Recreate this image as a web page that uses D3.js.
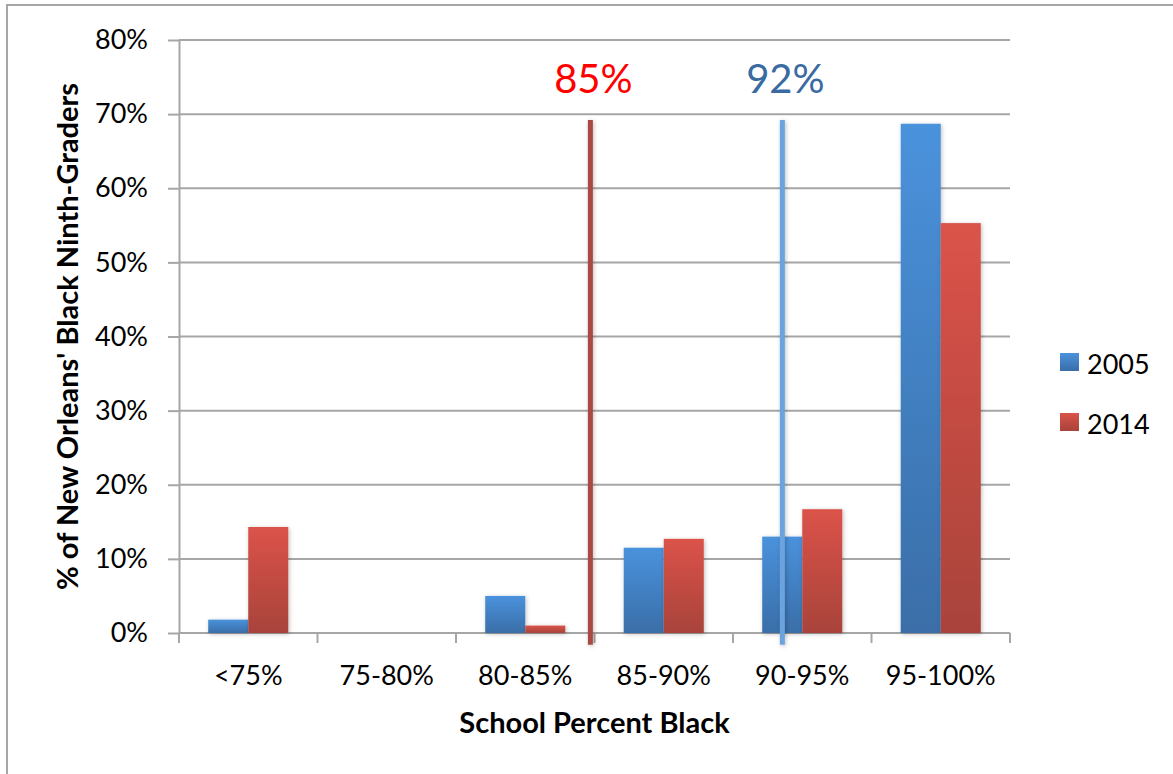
<!DOCTYPE html>
<html>
<head>
<meta charset="utf-8">
<script src="https://cdn.jsdelivr.net/npm/d3@7"></script>
<style>
  body { margin: 0; background: #fff; }
  text { font-family: Lato, "Open Sans", sans-serif; }
</style>
</head>
<body>
<svg id="canvas"></svg>
<script>
//--chart data
let categories = ['<75%', '75-80%', '80-85%', '85-90%', '90-95%', '95-100%'];
let seriesNames = ['2005', '2014'];
let values2005 = [1.8, 0, 5.0, 11.5, 13.0, 68.7];
let values2014 = [14.3, 0, 1.0, 12.7, 16.7, 55.3];
let yTicks = [0, 10, 20, 30, 40, 50, 60, 70, 80];
let markerLabels = ['85%', '92%'];
let markerValues = [85, 92];
let markerSpan = [-1.6, 69.2];
//--

let width = 1173;
let height = 774;

let canvas = d3.select('#canvas')
    .attr('width', width)
    .attr('height', height);

let plotLeft = 179, plotRight = 1010, plotTop = 40, plotBottom = 633;

let defs = canvas.append('defs');

let gradients = [
    {id: 'grad2005', top: '#4a92dc', bottom: '#3a6ea8'},
    {id: 'grad2014', top: '#db5349', bottom: '#a8433b'}
];
gradients.forEach(g => {
    let lg = defs.append('linearGradient')
        .attr('id', g.id)
        .attr('x1', 0).attr('y1', 0).attr('x2', 0).attr('y2', 1);
    lg.append('stop').attr('offset', '0%').attr('stop-color', g.top);
    lg.append('stop').attr('offset', '100%').attr('stop-color', g.bottom);
});

// shadow in user space so thin vertical lines don't vanish
defs.append('filter')
    .attr('id', 'shadow')
    .attr('filterUnits', 'userSpaceOnUse')
    .attr('x', 0).attr('y', 0).attr('width', width).attr('height', height)
    .append('feDropShadow')
    .attr('dx', 1).attr('dy', 1)
    .attr('stdDeviation', 2)
    .attr('flood-color', '#000')
    .attr('flood-opacity', 0.25);

//--outer frame
canvas.append('rect')
    .attr('x', 7).attr('y', 5)
    .attr('width', width + 20).attr('height', height + 20)
    .attr('fill', 'none')
    .attr('stroke', '#a6a6a6')
    .attr('stroke-width', 2);

//--scales
let x = d3.scaleBand()
    .domain(categories)
    .range([plotLeft, plotRight])
    .paddingInner(0).paddingOuter(0);

let xSeries = d3.scaleBand()
    .domain(seriesNames)
    .range([0, x.bandwidth()])
    .paddingInner(0)
    .paddingOuter(0.73);

let y = d3.scaleLinear()
    .domain([0, 80])
    .range([plotBottom, plotTop]);

let xMarker = d3.scaleLinear()
    .domain([70, 100.3])
    .range([plotLeft, plotRight]);

//--gridlines
canvas.append('g')
    .selectAll('line')
    .data(yTicks)
    .enter()
    .append('line')
    .attr('x1', plotLeft).attr('x2', plotRight)
    .attr('y1', d => y(d)).attr('y2', d => y(d))
    .attr('stroke', '#a6a6a6')
    .attr('stroke-width', 2);

//--y axis
let yAxis = canvas.append('g')
    .attr('transform', 'translate(' + plotLeft + ',0)')
    .call(d3.axisLeft(y)
        .tickValues(yTicks)
        .tickSize(11)
        .tickSizeOuter(0)
        .tickPadding(20)
        .tickFormat(d => d + '%'));
yAxis.select('.domain').attr('stroke', '#a6a6a6').attr('stroke-width', 2);
yAxis.selectAll('.tick line').attr('stroke', '#a6a6a6').attr('stroke-width', 2);
yAxis.selectAll('.tick text')
    .attr('font-size', 27)
    .attr('fill', '#000')
    .attr('font-family', 'Lato');

//--x axis ticks at category boundaries
let boundaries = categories.map(c => x(c)).concat([x.range()[1]]);
let xAxis = canvas.append('g')
    .attr('transform', 'translate(0,' + plotBottom + ')');
xAxis.selectAll('line')
    .data(boundaries)
    .enter()
    .append('line')
    .attr('x1', d => d).attr('x2', d => d)
    .attr('y1', 0).attr('y2', 10)
    .attr('stroke', '#a6a6a6')
    .attr('stroke-width', 2);
xAxis.selectAll('text')
    .data(categories)
    .enter()
    .append('text')
    .attr('x', d => x(d) + x.bandwidth() / 2)
    .attr('y', 52)
    .attr('text-anchor', 'middle')
    .attr('font-size', 27)
    .attr('fill', '#000')
    .text(d => d);

//--bars
let rows = categories.map((c, i) => ({category: c, values: [values2005[i], values2014[i]]}));

let groups = canvas.append('g')
    .selectAll('g')
    .data(rows)
    .enter()
    .append('g')
    .attr('transform', d => 'translate(' + x(d.category) + ',0)');

groups.selectAll('rect')
    .data(d => d.values.map((v, j) => ({series: seriesNames[j], value: v})).filter(e => e.value > 0))
    .enter()
    .append('rect')
    .attr('x', d => xSeries(d.series))
    .attr('width', xSeries.bandwidth())
    .attr('y', d => y(d.value))
    .attr('height', d => y(0) - y(d.value))
    .attr('fill', d => 'url(#grad' + d.series + ')')
    .attr('filter', 'url(#shadow)');

//--marker lines
let markerColors = ['#a94a45', '#6aa3dd'];
let labelColors = ['#ff0000', '#3a6aa2'];

let markers = canvas.append('g')
    .selectAll('g')
    .data(markerValues)
    .enter()
    .append('g');

markers.append('line')
    .attr('x1', d => xMarker(d)).attr('x2', d => xMarker(d))
    .attr('y1', y(markerSpan[1]))
    .attr('y2', y(markerSpan[0]))
    .attr('stroke', (d, i) => markerColors[i])
    .attr('stroke-width', 5)
    .attr('filter', 'url(#shadow)');

markers.append('text')
    .attr('x', d => xMarker(d) + 3)
    .attr('y', y(72.9))
    .attr('text-anchor', 'middle')
    .attr('font-size', 40)
    .attr('fill', (d, i) => labelColors[i])
    .text((d, i) => markerLabels[i]);

//--axis titles
canvas.append('text')
    .attr('x', (plotLeft + plotRight) / 2)
    .attr('y', 733)
    .attr('text-anchor', 'middle')
    .attr('font-size', 29)
    .attr('font-weight', 'bold')
    .attr('fill', '#000')
    .text('School Percent Black');

canvas.append('text')
    .attr('transform', 'translate(78,' + (plotTop + plotBottom) / 2 + ') rotate(-90)')
    .attr('text-anchor', 'middle')
    .attr('font-size', 29)
    .attr('font-weight', 'bold')
    .attr('fill', '#000')
    .text("% of New Orleans' Black Ninth-Graders");

//--legend
let legend = canvas.append('g')
    .attr('transform', 'translate(1060,353)');

let legendItem = legend.selectAll('g')
    .data(seriesNames)
    .enter()
    .append('g')
    .attr('transform', (d, i) => 'translate(0,' + i * 60 + ')');

legendItem.append('rect')
    .attr('width', 19).attr('height', 18)
    .attr('fill', d => 'url(#grad' + d + ')');

legendItem.append('text')
    .attr('x', 27)
    .attr('y', 21)
    .attr('font-size', 27)
    .attr('fill', '#000')
    .text(d => d);
</script>
</body>
</html>
